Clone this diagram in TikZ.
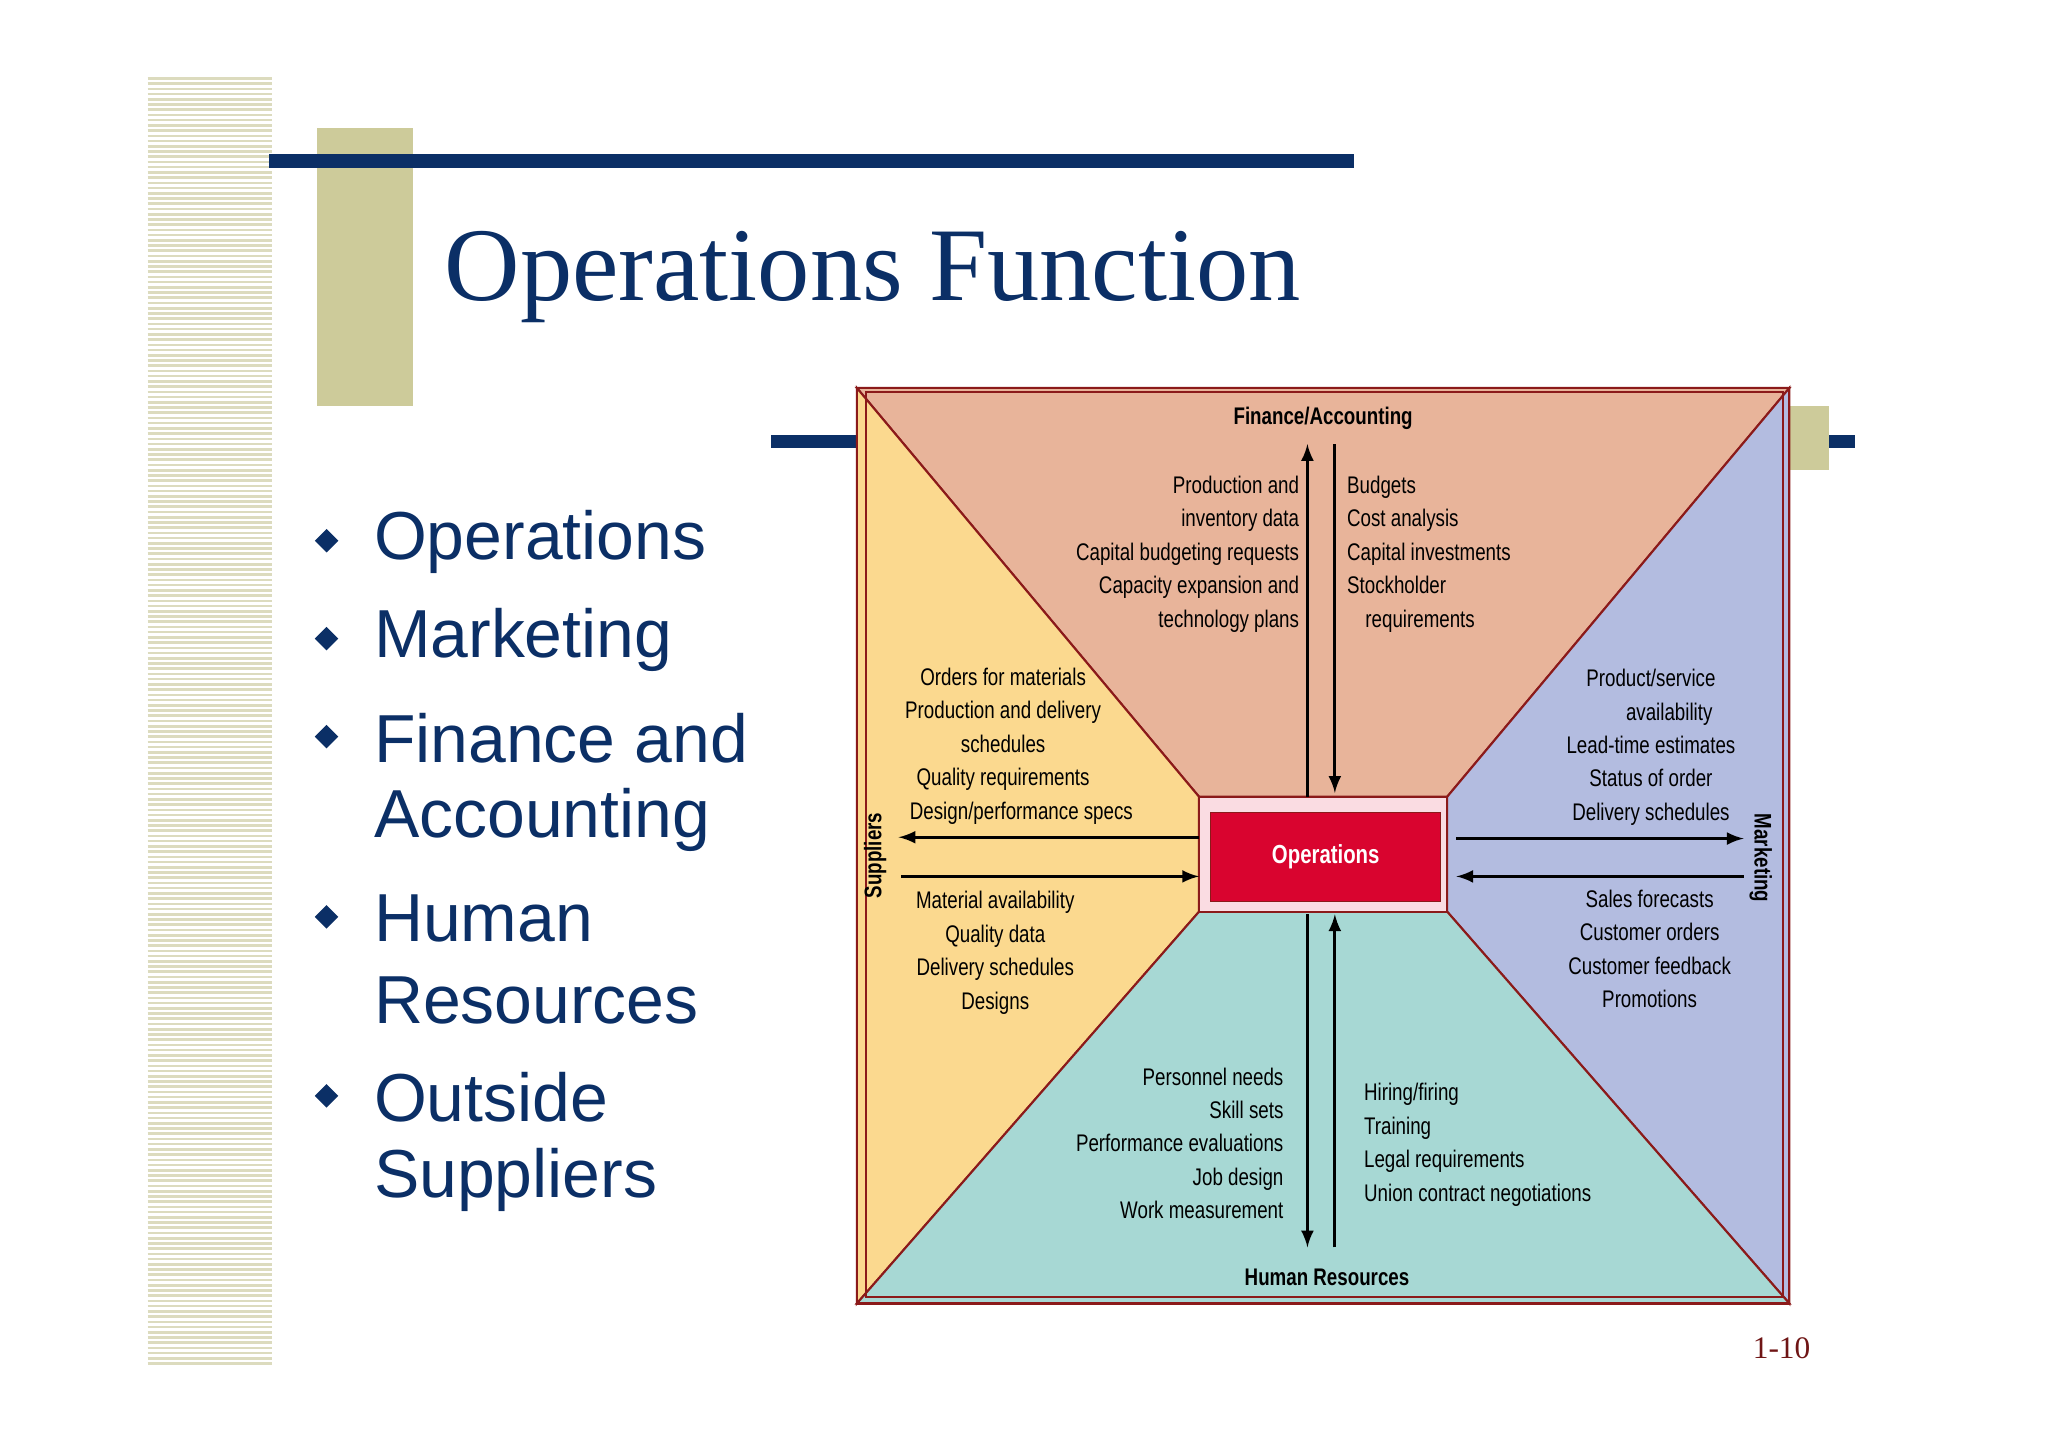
\documentclass[tikz,border=0pt]{standalone}
\usepackage{fontspec}
\setmainfont{Liberation Serif}
\newfontfamily\sans{Liberation Sans}
\newfontfamily\cond[FakeStretch=0.78]{Liberation Sans}
\definecolor{navy}{HTML}{0B2F66}
\definecolor{olive}{HTML}{CDCB9A}
\definecolor{stripe}{HTML}{DCDBBE}
\definecolor{salmon}{HTML}{E8B49A}
\definecolor{yel}{HTML}{FBD98F}
\definecolor{blu}{HTML}{B3BCE0}
\definecolor{teal}{HTML}{A7D8D4}
\definecolor{dred}{HTML}{8B1A1A}
\definecolor{opsred}{HTML}{D9042F}
\begin{document}
\begin{tikzpicture}[x=0.5pt,y=-0.5pt,
  sm/.style={font=\cond\fontsize{9.2pt}{12.8pt}\selectfont,inner sep=0pt},
  hd/.style={font=\cond\bfseries\fontsize{9.2pt}{11pt}\selectfont,inner sep=0pt},
  bl/.style={font=\sans\fontsize{26pt}{31pt}\selectfont,text=navy,anchor=west,inner sep=0pt},
  arr/.style={-latex,line width=1.2pt},
  bord/.style={draw=dred,line width=0.8pt}]
\useasboundingbox (0,0) rectangle (1568,1108);
\fill[white] (0,0) rectangle (1568,1108);
% stripes
\foreach \y in {60,64,...,1046}{\draw[stripe,line width=1pt] (113,\y) -- (208,\y);}
\fill[olive] (243,98) rectangle (316,311);
\fill[navy] (206,118) rectangle (1037,129);
\node[anchor=base west,inner sep=0pt,text=navy,font=\fontsize{40pt}{40pt}\selectfont] (title) at (340,230) {Operations Function};
\fill[navy] (590,333) rectangle (1420,343);
\fill[olive] (1370,311) rectangle (1400,360);
% bullets
\foreach \yy/\t in {415/Operations,490/Marketing,565/Finance and,703/Human,840/Outside}{
  \fill[navy] (250,\yy-10) -- (259,\yy-1) -- (250,\yy+8) -- (241,\yy-1) -- cycle;}
\node[bl] (b1) at (286,415) {Operations};
\node[bl] (b2) at (286,490) {Marketing};
\node[bl] (b3) at (286,565) {Finance and};
\node[bl] (b3b) at (286,628) {Accounting};
\node[bl] (b4) at (286,703) {Human};
\node[bl] (b4b) at (286,766) {Resources};
\node[bl] (b5) at (286,840) {Outside};
\node[bl] (b5b) at (286,903) {Suppliers};
% diagram
\fill[salmon,bord] (656,297) -- (1370,297) -- (1108,610) -- (918,610) -- cycle;
\fill[yel,bord] (656,297) -- (918,610) -- (918,698) -- (656,998) -- cycle;
\fill[blu,bord] (1370,297) -- (1108,610) -- (1108,698) -- (1370,998) -- cycle;
\fill[teal,bord] (656,998) -- (918,698) -- (1108,698) -- (1370,998) -- cycle;
\draw[bord] (656,297) rectangle (1370,998);
\draw[bord] (663,300) -- (1365,300) -- (1365,993) -- (663,993) -- cycle;
\draw[bord,fill=white!30!opsred!20] (918,610) rectangle (1108,698);
\node[fill=opsred,draw=dred,minimum width=88pt,minimum height=34pt,inner sep=0pt,text=white,font=\cond\bfseries\fontsize{10pt}{12pt}\selectfont] (ops) at (1015,656) {Operations};
% arrows
\coordinate (t1) at (1001,340); \coordinate (t2) at (1022,340);
\coordinate (o1) at (1001,610); \coordinate (o2) at (1022,607);
\draw[arr] (o1) -- (t1); \draw[arr] (t2) -- (o2);
\coordinate (h1) at (1001,955); \coordinate (h2) at (1022,955);
\coordinate (p1) at (1001,700); \coordinate (p2) at (1022,700);
\draw[arr] (p1) -- (h1); \draw[arr] (h2) -- (p2);
\coordinate (l1) at (688,641); \coordinate (l2) at (690,671);
\coordinate (m1) at (918,641); \coordinate (m2) at (918,671);
\draw[arr] (m1) -- (l1); \draw[arr] (l2) -- (m2);
\coordinate (r1) at (1335,642); \coordinate (r2) at (1335,671);
\coordinate (n1) at (1115,642); \coordinate (n2) at (1115,671);
\draw[arr] (n1) -- (r1); \draw[arr] (r2) -- (n2);
% texts
\node[hd] (fa) at (1013,320) {Finance/Accounting};
\node[sm,align=right,anchor=north east] (fl) at (995,364) {Production and\\inventory data\\Capital budgeting requests\\Capacity expansion and\\technology plans};
\node[sm,align=left,anchor=north west] (fr) at (1031,364) {Budgets\\Cost analysis\\Capital investments\\Stockholder\\\hspace*{7pt}requirements};
\node[sm,align=center,anchor=north] (sl1) at (768,511) {Orders for materials\\Production and delivery\\schedules\\Quality requirements\\\hspace*{14pt}Design/performance specs};
\node[sm,align=center,anchor=north] (sl2) at (762,682) {Material availability\\Quality data\\Delivery schedules\\Designs};
\node[hd,rotate=90] (sup) at (670,655) {Suppliers};
\node[sm,align=center,anchor=north] (mk1) at (1264,512) {Product/service\\\hspace*{14pt}availability\\Lead-time estimates\\Status of order\\Delivery schedules};
\node[sm,align=center,anchor=north] (mk2) at (1263,681) {Sales forecasts\\Customer orders\\Customer feedback\\Promotions};
\node[hd,rotate=-90] (mkt) at (1348,657) {Marketing};
\node[sm,align=right,anchor=north east] (hl) at (983,817) {Personnel needs\\Skill sets\\Performance evaluations\\Job design\\Work measurement};
\node[sm,align=left,anchor=north west] (hr) at (1044,829) {Hiring/firing\\Training\\Legal requirements\\Union contract negotiations};
\node[hd] (hrt) at (1016,978) {Human Resources};
\node[inner sep=0pt,text=dred!80!black,font=\fontsize{12pt}{14pt}\selectfont] (pg) at (1364,1032) {1-10};
\end{tikzpicture}
\end{document}
